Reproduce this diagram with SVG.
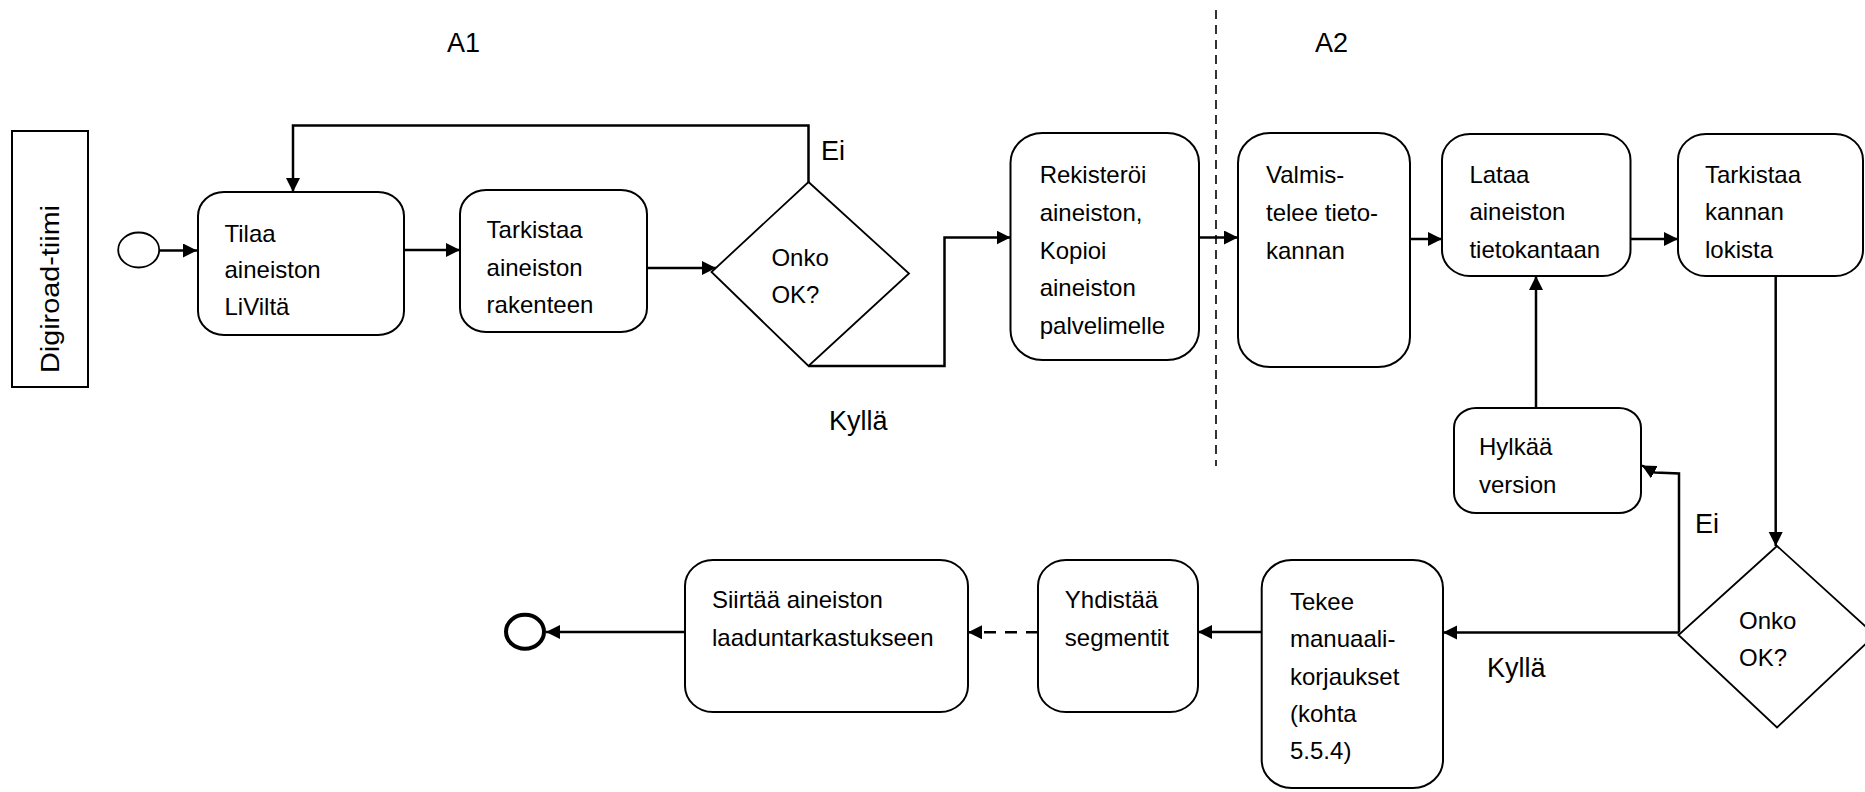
<svg xmlns="http://www.w3.org/2000/svg" width="1865" height="792" viewBox="0 0 1865 792">
<defs>
<style>
.box{fill:#fff;stroke:#000;stroke-width:2}
.dia{fill:#fff;stroke:#000;stroke-width:1.8}
.t{font-family:"Liberation Sans",Arial,sans-serif;font-size:24px;fill:#000}
.lbl{font-family:"Liberation Sans",Arial,sans-serif;font-size:27px;fill:#000}
.c{fill:none;stroke:#000;stroke-width:2.5}
.arr{marker-end:url(#ah)}
</style>
<marker id="ah" markerUnits="userSpaceOnUse" markerWidth="15" markerHeight="15" refX="14" refY="7" orient="auto" viewBox="0 0 15 15">
<path d="M0,0 L14,7 L0,14 z" fill="#000"/>
</marker>
</defs>
<rect width="1865" height="792" fill="#fff"/>

<g id="labels">
<text class="lbl" x="447" y="52">A1</text>
<text class="lbl" x="1315" y="52">A2</text>
<text class="lbl" x="821" y="160">Ei</text>
<text class="lbl" x="829" y="430">Kyllä</text>
<text class="lbl" x="1695" y="533">Ei</text>
<text class="lbl" x="1487" y="677">Kyllä</text>
</g>

<g id="divider">
<line x1="1216" y1="10" x2="1216" y2="466" stroke="#000" stroke-width="1.6" stroke-dasharray="9,6"/>
</g>

<g id="lane">
<rect x="12" y="131" width="76" height="256" fill="#fff" stroke="#000" stroke-width="2"/>
<text class="t" font-size="26" textLength="168" lengthAdjust="spacingAndGlyphs" text-anchor="middle" transform="translate(59,289) rotate(-90)" style="font-size:26px">Digiroad-tiimi</text>
</g>

<g id="connectors">
<path class="c arr" d="M159,250.5 H197"/>
<path class="c arr" d="M404,250 H460"/>
<path class="c arr" d="M647,268 H716"/>
<path class="c arr" d="M808.5,182 V125.5 H293 V192"/>
<path class="c arr" d="M808.5,366 H944.5 V237.5 H1010.5"/>
<path class="c arr" d="M1199,237.5 H1238"/>
<path class="c arr" d="M1410,239 H1442"/>
<path class="c arr" d="M1630.5,239 H1678"/>
<path class="c arr" d="M1775.7,272 V546"/>
<path class="c arr" d="M1536,408 V276"/>
<path class="c arr" d="M1679,632.5 V473.5 L1655,472.5 L1642,465.5"/>
<path class="c arr" d="M1679,632.5 H1443"/>
<path class="c arr" d="M1261.7,632 H1198"/>
<path class="c arr" d="M1038,632.3 H968" stroke-dasharray="12,9"/>
<path class="c arr" d="M685,632 H546"/>
</g>

<g id="start">
<ellipse cx="138.7" cy="250" rx="20.5" ry="17.5" fill="#fff" stroke="#000" stroke-width="1.8"/>
</g>

<g id="end">
<ellipse cx="525" cy="631.7" rx="19" ry="17" fill="#fff" stroke="#000" stroke-width="4"/>
</g>

<g id="n-tilaa">
<rect class="box" x="198" y="192" width="206" height="143" rx="26" ry="24"/>
<text class="t" x="224.5" y="241.7">Tilaa<tspan x="224.5" dy="36.7">aineiston</tspan><tspan x="224.5" dy="36.7">LiViltä</tspan></text>
</g>

<g id="n-tarkistaa1">
<rect class="box" x="460" y="190" width="187" height="142" rx="26" ry="24"/>
<text class="t" x="486.6" y="238">Tarkistaa<tspan x="486.6" dy="37.5">aineiston</tspan><tspan x="486.6" dy="37.5">rakenteen</tspan></text>
</g>

<g id="n-onko1">
<polygon class="dia" points="808.5,182 909,273.5 808.5,366 711.5,272"/>
<text class="t" x="771.4" y="265.7">Onko<tspan x="771.4" dy="37.5">OK?</tspan></text>
</g>

<g id="n-rekisteroi">
<rect class="box" x="1010.5" y="133" width="188.5" height="227" rx="32" ry="30"/>
<text class="t" x="1039.7" y="183">Rekisteröi<tspan x="1039.7" dy="37.8">aineiston,</tspan><tspan x="1039.7" dy="37.8">Kopioi</tspan><tspan x="1039.7" dy="37.8">aineiston</tspan><tspan x="1039.7" dy="37.8">palvelimelle</tspan></text>
</g>

<g id="n-valmis">
<rect class="box" x="1238" y="133" width="172" height="234" rx="32" ry="30"/>
<text class="t" x="1266" y="183">Valmis-<tspan x="1266" dy="38">telee tieto-</tspan><tspan x="1266" dy="38">kannan</tspan></text>
</g>

<g id="n-lataa">
<rect class="box" x="1442" y="134" width="188.5" height="142" rx="28" ry="26"/>
<text class="t" x="1469.4" y="182.7">Lataa<tspan x="1469.4" dy="37.5">aineiston</tspan><tspan x="1469.4" dy="37.5">tietokantaan</tspan></text>
</g>

<g id="n-tarkistaa2">
<rect class="box" x="1678" y="134" width="185" height="142" rx="28" ry="26"/>
<text class="t" x="1705" y="182.7">Tarkistaa<tspan x="1705" dy="37.5">kannan</tspan><tspan x="1705" dy="37.5">lokista</tspan></text>
</g>

<g id="n-hylkaa">
<rect class="box" x="1454" y="408" width="187" height="105" rx="22" ry="20"/>
<text class="t" x="1479" y="455">Hylkää<tspan x="1479" dy="37.7">version</tspan></text>
</g>

<g id="n-onko2">
<polygon class="dia" points="1777,546 1875,635 1777,727.5 1678.5,635"/>
<text class="t" x="1739" y="628.5">Onko<tspan x="1739" dy="37.5">OK?</tspan></text>
</g>

<g id="n-tekee">
<rect class="box" x="1261.7" y="560" width="181.3" height="228" rx="30" ry="28"/>
<text class="t" x="1290" y="610">Tekee<tspan x="1290" dy="37.3">manuaali-</tspan><tspan x="1290" dy="37.3">korjaukset</tspan><tspan x="1290" dy="37.3">(kohta</tspan><tspan x="1290" dy="37.3">5.5.4)</tspan></text>
</g>

<g id="n-yhdistaa">
<rect class="box" x="1038" y="560" width="160" height="152" rx="28" ry="26"/>
<text class="t" x="1064.8" y="608.3">Yhdistää<tspan x="1064.8" dy="37.7">segmentit</tspan></text>
</g>

<g id="n-siirtaa">
<rect class="box" x="685" y="560" width="283" height="152" rx="28" ry="26"/>
<text class="t" x="712" y="608.3">Siirtää aineiston<tspan x="712" dy="37.7">laaduntarkastukseen</tspan></text>
</g>
</svg>
